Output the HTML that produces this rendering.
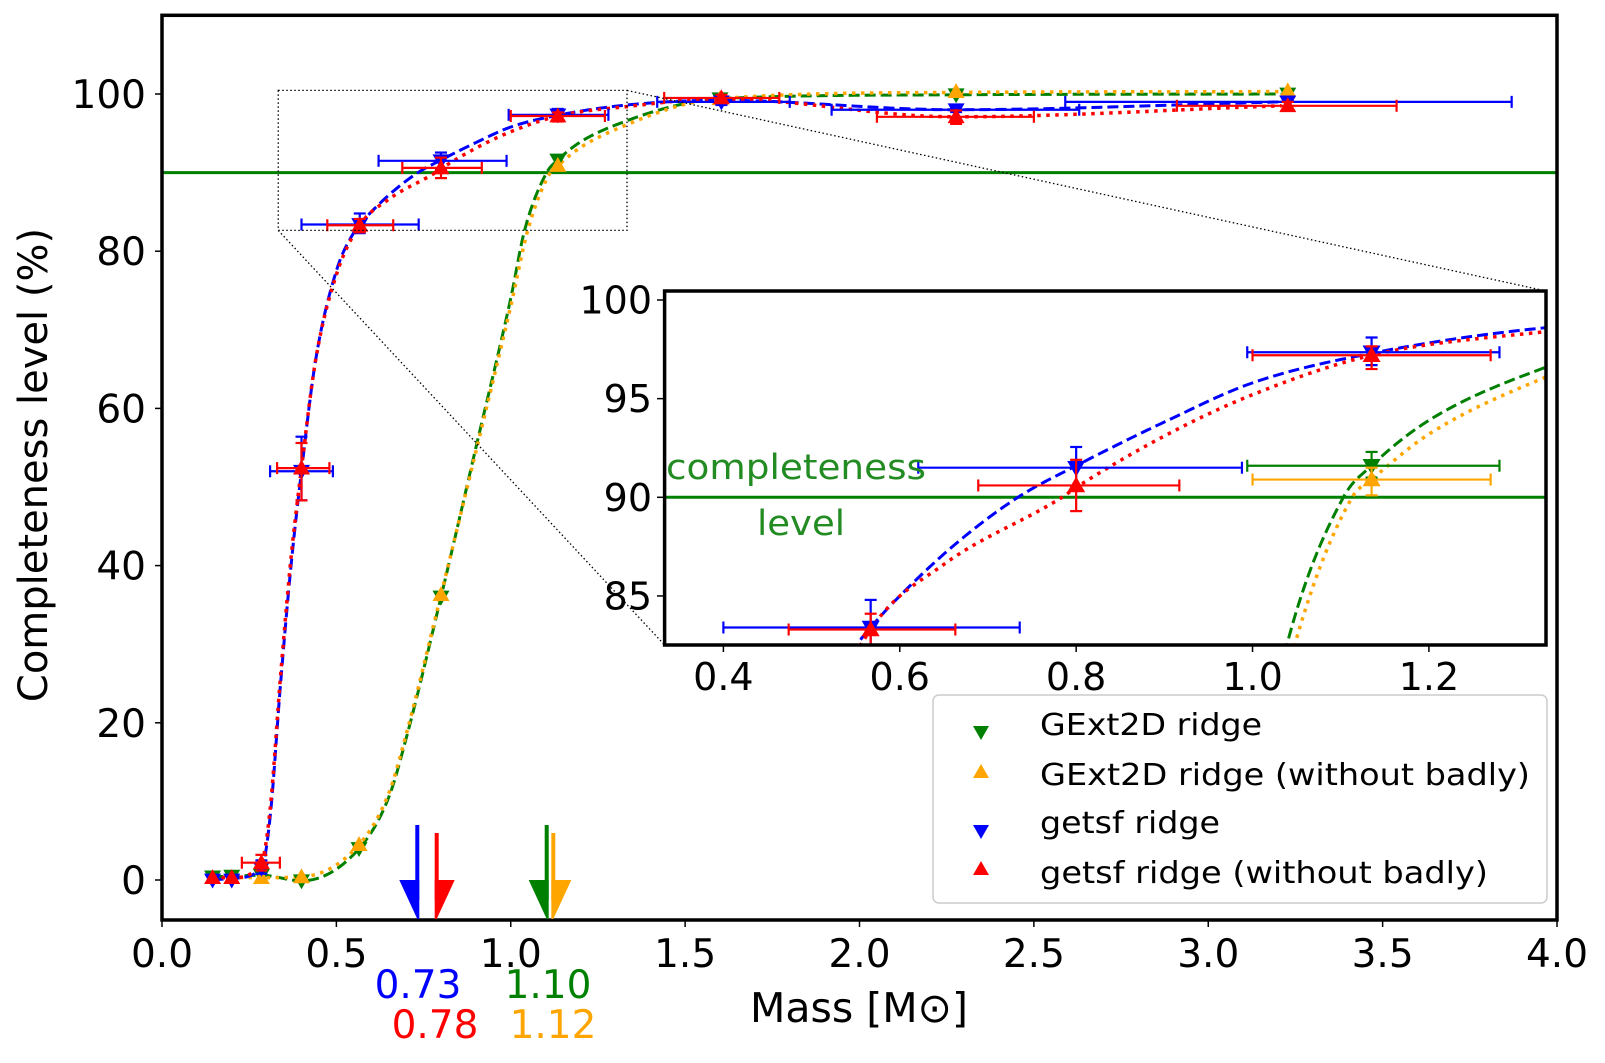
<!DOCTYPE html>
<html><head><meta charset="utf-8">
<style>
html,body{margin:0;padding:0;background:#fff;width:1605px;height:1063px;overflow:hidden;}
svg{display:block;font-family:"DejaVu Sans","Liberation Sans",sans-serif;}
</style></head>
<body>
<svg id="s" width="1605" height="1063" viewBox="0 0 1605 1063" xmlns="http://www.w3.org/2000/svg">
<defs>
<clipPath id="cm"><rect x="162" y="15" width="1395" height="905"/></clipPath>
<clipPath id="ci"><rect x="664.6" y="291" width="881.4" height="354"/></clipPath>
</defs>
<rect width="1605" height="1063" fill="#fff"/>
<g id="main" clip-path="url(#cm)"></g>
<g id="inset"></g>
<g id="deco"></g>
</svg>
<script>
var NS="http://www.w3.org/2000/svg";
function el(p,t,a,txt){var e=document.createElementNS(NS,t);for(var k in a)e.setAttribute(k,a[k]);if(txt!==undefined)e.textContent=txt;p.appendChild(e);return e;}
var S=document.getElementById('s'),M=document.getElementById('main'),I=document.getElementById('inset'),D=document.getElementById('deco');
var mx=function(x){return 162+x*348.75;}, my=function(y){return 880-y*7.86;};
var ix=function(x){return 664.6+(x-1/3)*881.9;}, iy=function(y){return 497.3-(y-90)*19.73;};
function mono(pts){var n=pts.length,xs=pts.map(p=>p[0]),ys=pts.map(p=>p[1]),d=[],m=[];
for(var i=0;i<n-1;i++)d.push((ys[i+1]-ys[i])/(xs[i+1]-xs[i]));
m[0]=d[0];m[n-1]=d[n-2];for(i=1;i<n-1;i++){m[i]=(d[i-1]*d[i]<=0)?0:(d[i-1]+d[i])/2;}
for(i=0;i<n-1;i++){if(d[i]==0){m[i]=0;m[i+1]=0;continue;}var a=m[i]/d[i],b=m[i+1]/d[i],h=a*a+b*b;if(h>9){var t=3/Math.sqrt(h);m[i]=t*a*d[i];m[i+1]=t*b*d[i];}}
var out=[];for(i=0;i<n-1;i++){var h2=xs[i+1]-xs[i];for(var k=0;k<40;k++){var t=k/40,t2=t*t,t3=t2*t;
var y=(2*t3-3*t2+1)*ys[i]+(t3-2*t2+t)*h2*m[i]+(-2*t3+3*t2)*ys[i+1]+(t3-t2)*h2*m[i+1];out.push([xs[i]+t*h2,y]);}}
out.push([xs[n-1],ys[n-1]]);return out;}
function path(g,pts,fx,fy,style){var d=pts.map((p,i)=>(i?'L':'M')+fx(p[0]).toFixed(2)+' '+fy(p[1]).toFixed(2)).join(' ');
var a={d:d,fill:'none'};for(var k in style)a[k]=style[k];el(g,'path',a);}
var curves={
green:{pts:[[0.145,0.4],[0.2,0.5],[0.285,0.6],[0.4,-0.1],[0.565,4],[0.65,10.5],[0.7,18],[0.8,36],[0.9,55],[1.0,74],[1.04,82.7],[1.103,90],[1.135,91.6],[1.2,93.9],[1.333,96.6],[1.5,98.8],[1.6,99.4],[2.27,99.9],[3.21,100]],st:{stroke:'#008000','stroke-width':3,'stroke-dasharray':'11,5'}},
orange:{pts:[[0.145,0.3],[0.2,0.3],[0.285,0.3],[0.4,0.4],[0.565,4.5],[0.65,11],[0.7,18.5],[0.8,36.3],[0.9,54.5],[1.0,73],[1.049,82.7],[1.113,90],[1.135,90.9],[1.2,93.2],[1.333,96.1],[1.5,98.7],[1.6,99.4],[2.27,100.2],[3.21,100.3]],st:{stroke:'#FFA500','stroke-width':3.5,'stroke-dasharray':'3.5,5.5'}},
blue:{pts:[[0.145,0],[0.2,0.2],[0.285,1.5],[0.31,8],[0.34,25],[0.37,40],[0.4,52],[0.44,66],[0.5,77.5],[0.553,82.6],[0.567,83.4],[0.6,85.0],[0.665,87.7],[0.734,90],[0.8,91.6],[0.904,93.9],[1.0,95.8],[1.135,97.3],[1.333,98.6],[1.6,99.2],[2.27,98.0],[3.21,99.0]],st:{stroke:'#0000FF','stroke-width':3,'stroke-dasharray':'11,5'}},
red:{pts:[[0.145,0.3],[0.2,0.3],[0.285,2.2],[0.31,9],[0.34,26],[0.37,41],[0.4,52.4],[0.44,66],[0.5,77],[0.567,83.3],[0.65,86.6],[0.784,90],[0.8,90.5],[0.904,93.2],[1.0,95.2],[1.135,97.2],[1.333,98.4],[1.6,99.4],[2.27,97.1],[3.21,98.5]],st:{stroke:'#FF0000','stroke-width':3.5,'stroke-dasharray':'3.5,5.5'}}
};
var col={green:'#008000',orange:'#FFA500',blue:'#0000FF',red:'#FF0000'};
function tri(g,x,y,up,c,s){s=s||9;
var p=up?[[x,y-s],[x-s,y+s*0.75],[x+s,y+s*0.75]]:[[x,y+s],[x-s,y-s*0.75],[x+s,y-s*0.75]];
el(g,'polygon',{points:p.map(q=>q.join(',')).join(' '),fill:c});}
function ebar(g,fx,fy,x,y,xl,xh,yl,yh,c){var cap=6;
if(xl!=null){el(g,'line',{x1:fx(xl),y1:fy(y),x2:fx(xh),y2:fy(y),stroke:c,'stroke-width':2.2});
el(g,'line',{x1:fx(xl),y1:fy(y)-cap,x2:fx(xl),y2:fy(y)+cap,stroke:c,'stroke-width':2.2});
el(g,'line',{x1:fx(xh),y1:fy(y)-cap,x2:fx(xh),y2:fy(y)+cap,stroke:c,'stroke-width':2.2});}
if(yl!=null){el(g,'line',{x1:fx(x),y1:fy(yl),x2:fx(x),y2:fy(yh),stroke:c,'stroke-width':2.2});
el(g,'line',{x1:fx(x)-cap,y1:fy(yl),x2:fx(x)+cap,y2:fy(yl),stroke:c,'stroke-width':2.2});
el(g,'line',{x1:fx(x)-cap,y1:fy(yh),x2:fx(x)+cap,y2:fy(yh),stroke:c,'stroke-width':2.2});}}
var pts={
green:[[0.145,0.4],[0.2,0.5],[0.285,0.6],[0.4,-0.1],[0.565,4],[0.8,36],[1.135,91.6,0.994,1.28,91.0,92.3],[1.6,99.4],[2.277,99.9],[3.228,100]],
orange:[[0.285,0.3],[0.4,0.4],[0.565,4.5],[0.8,36.3],[1.135,90.9,1.0,1.27,90.1,91.5],[1.6,99.4],[2.277,100.3],[3.228,100.4]],
blue:[[0.145,0],[0.2,0],[0.285,1.5,null,null,0.8,2.5],[0.4,52,0.31,0.49,48.3,56.4],[0.567,83.4,0.4,0.736,82.3,84.8],[0.8,91.5,0.621,0.988,90.4,92.55],[1.135,97.35,0.994,1.28,96.7,98.1],[1.604,99.0,1.42,1.80,98.6,99.4],[2.277,98.0,1.92,2.63,97.7,98.3],[3.228,99.0,2.59,3.87,97.9,99.2]],
red:[[0.145,0.3],[0.2,0.3],[0.285,2.2,0.229,0.338,1.2,3.2],[0.4,52.4,0.33,0.48,48.3,55.6],[0.567,83.3,0.474,0.663,82.4,84.1],[0.8,90.6,0.689,0.917,89.3,91.9],[1.135,97.2,1.0,1.27,96.5,97.65],[1.604,99.5,1.44,1.77,99.1,99.9],[2.277,97.1,2.05,2.50,96.2,97.9],[3.228,98.5,2.91,3.54,98.0,99.0]]
};
var up={green:false,orange:true,blue:false,red:true};
function drawAll(g,fx,fy,inset){
['green','orange','blue','red'].forEach(function(k){path(g,mono(curves[k].pts),fx,fy,curves[k].st);});
['green','orange','blue','red'].forEach(function(k){pts[k].forEach(function(p){
 if(p.length>2){ if(inset||k=='blue'||k=='red') ebar(g,fx,fy,p[0],p[1],p[2],p[3],p[4],p[5],col[k]);}
 tri(g,fx(p[0]),fy(p[1]),up[k],col[k],inset?9:8.5);});});}
el(M,'line',{x1:162,y1:my(90),x2:1557,y2:my(90),stroke:'#008000','stroke-width':3});
drawAll(M,mx,my,false);
el(D,'rect',{x:278.25,y:90.4,width:348.75,height:140,fill:'none',stroke:'#000','stroke-width':1.3,'stroke-dasharray':'1.5,2.5'});
el(D,'line',{x1:278.25,y1:230.4,x2:664.6,y2:645,stroke:'#000','stroke-width':1.3,'stroke-dasharray':'1.5,2.5'});
el(D,'line',{x1:627,y1:90.4,x2:1546,y2:291,stroke:'#000','stroke-width':1.3,'stroke-dasharray':'1.5,2.5'});
el(I,'rect',{x:664.6,y:291,width:881.4,height:354,fill:'#fff'});
var IG=el(I,'g',{'clip-path':'url(#ci)'});
el(IG,'line',{x1:664,y1:iy(90),x2:1547,y2:iy(90),stroke:'#008000','stroke-width':3});
drawAll(IG,ix,iy,true);
el(I,'text',{x:666,y:479,fill:'#228B22','font-size':35,textLength:260,lengthAdjust:'spacingAndGlyphs'},'completeness');
el(I,'text',{x:757,y:535,fill:'#228B22','font-size':35,textLength:88,lengthAdjust:'spacingAndGlyphs'},'level');
el(I,'rect',{x:664.6,y:291,width:881.4,height:354,fill:'none',stroke:'#000','stroke-width':3.5});
[0.4,0.6,0.8,1.0,1.2].forEach(function(v){var x=ix(v);el(I,'line',{x1:x,y1:645,x2:x,y2:652,stroke:'#000','stroke-width':1.5});
el(I,'text',{x:x,y:690,'text-anchor':'middle','font-size':38},v.toFixed(1));});
[85,90,95,100].forEach(function(v){var y=iy(v);el(I,'line',{x1:657,y1:y,x2:664.6,y2:y,stroke:'#000','stroke-width':1.5});
el(I,'text',{x:652,y:y+13.5,'text-anchor':'end','font-size':38},String(v));});
el(D,'rect',{x:162,y:15.3,width:1395,height:904.7,fill:'none',stroke:'#000','stroke-width':3.5});
[0,0.5,1,1.5,2,2.5,3,3.5,4].forEach(function(v){var x=mx(v);el(D,'line',{x1:x,y1:920,x2:x,y2:927,stroke:'#000','stroke-width':1.5});
el(D,'text',{x:x,y:967,'text-anchor':'middle','font-size':39},v.toFixed(1));});
[0,20,40,60,80,100].forEach(function(v){var y=my(v);el(D,'line',{x1:155,y1:y,x2:162,y2:y,stroke:'#000','stroke-width':1.5});
el(D,'text',{x:146,y:y+14,'text-anchor':'end','font-size':39},String(v));});
el(D,'text',{x:859,y:1022,'text-anchor':'middle','font-size':41},'Mass [M\u2299]');
el(D,'text',{x:0,y:0,'text-anchor':'middle','font-size':40,transform:'translate(47,465) rotate(-90)'},'Completeness level (%)');
function arrow(x,top,left,c){el(D,'line',{x1:x,y1:top,x2:x,y2:900,stroke:c,'stroke-width':4});
var w=18;el(D,'polygon',{points:left?(x+2)+',880 '+(x-w)+',880 '+(x)+',919 '+(x+2)+',919':(x-2)+',880 '+(x+w)+',880 '+(x)+',919 '+(x-2)+',919',fill:c});}
arrow(417.3,825,true,'#0000FF');arrow(436.7,833,false,'#FF0000');arrow(546.7,825,true,'#008000');arrow(553.3,833,false,'#FFA500');
el(D,'text',{x:418,y:998,'text-anchor':'middle','font-size':39,fill:'#0000FF'},'0.73');
el(D,'text',{x:435,y:1038,'text-anchor':'middle','font-size':39,fill:'#FF0000'},'0.78');
el(D,'text',{x:548,y:998,'text-anchor':'middle','font-size':39,fill:'#008000'},'1.10');
el(D,'text',{x:553,y:1038,'text-anchor':'middle','font-size':39,fill:'#FFA500'},'1.12');
el(D,'rect',{x:933,y:695,width:614,height:208,rx:6,fill:'#fff','fill-opacity':0.85,stroke:'#ccc','stroke-width':1.5});
var L=[['GExt2D ridge','#008000',false,732,735,222],['GExt2D ridge (without badly)','#FFA500',true,772,785,490],['getsf ridge','#0000FF',false,831,833,180],['getsf ridge (without badly)','#FF0000',true,869,883,448]];
L.forEach(function(r){tri(D,981,r[3],r[2],r[1],8);el(D,'text',{x:1040,y:r[4],'font-size':30,textLength:r[5],lengthAdjust:'spacingAndGlyphs'},r[0]);});
</script>
</body></html>
